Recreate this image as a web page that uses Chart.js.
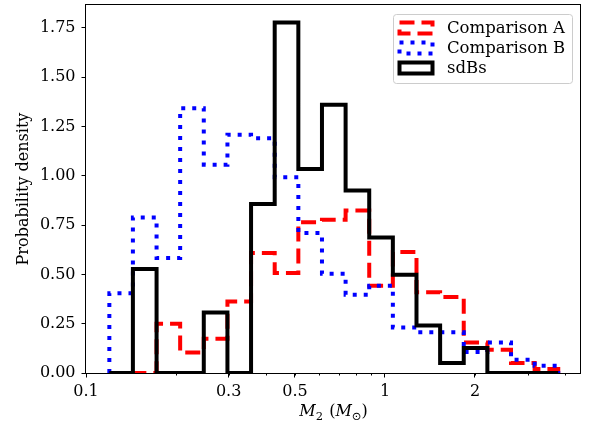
<!DOCTYPE html>
<html>
<head>
<meta charset="utf-8">
<script src="https://cdn.jsdelivr.net/npm/chart.js@4.4.1/dist/chart.umd.min.js"></script>
<style>
  html, body { margin: 0; padding: 0; background: #fff; }
  #wrap { width: 590px; height: 424px; }
</style>
</head>
<body>
<div id="wrap"><canvas id="c" width="590" height="424"></canvas></div>
<script>
// shared log-spaced bin edges (M2 in solar masses)
const binEdges = [0.1197, 0.1435, 0.1722, 0.2065, 0.2477, 0.2972, 0.3565, 0.4277, 0.5131, 0.6155,
  0.7384, 0.8857, 1.0625, 1.2746, 1.529, 1.834, 2.2, 2.6396, 3.1659, 3.7973];

const compA = [0, 0, 0.25, 0.104, 0.174, 0.363, 0.608, 0.507, 0.765, 0.777,
  0.824, 0.442, 0.613, 0.409, 0.385, 0.155, 0.118, 0.051, 0.02];
const compB = [0.405, 0.789, 0.583, 1.343, 1.056, 1.208, 1.19, 0.993, 0.71, 0.503,
  0.397, 0.442, 0.231, 0.206, 0.206, 0.106, 0.155, 0.067, 0.037];
const sdBs = [0, 0.527, 0, 0, 0.307, 0, 0.857, 1.777, 1.035, 1.36,
  0.925, 0.687, 0.498, 0.241, 0.051, 0.127, 0, 0, 0];

const xTickValues = [0.1, 0.3, 0.5, 1, 2];
const xTickLabels = ["0.1", "0.3", "0.5", "1", "2"];
const xMinorTicks = [0.2, 0.3, 0.4, 0.5, 0.6, 0.7, 0.8, 0.9, 2, 3, 4];
const yTickValues = [0, 0.25, 0.5, 0.75, 1, 1.25, 1.5, 1.75];

const serif = "'DejaVu Serif', serif";

// outline of a step histogram: up at the first edge, down at the last
function stepPoints(values) {
  const pts = [{ x: binEdges[0], y: 0 }];
  values.forEach((v, i) => pts.push({ x: binEdges[i], y: v }));
  pts.push({ x: binEdges[binEdges.length - 1], y: 0 });
  return pts;
}

const series = [
  { label: "Comparison A", values: compA, color: "#ff0000", dash: [15, 7], width: 4, order: 2 },
  { label: "Comparison B", values: compB, color: "#0000ff", dash: [4, 7], width: 4, order: 1 },
  { label: "sdBs", values: sdBs, color: "#000000", dash: [], width: 4, order: 0 },
];

const framePlugin = {
  id: "frame",
  afterDatasetsDraw(chart) {
    const { ctx, chartArea: a, scales: { x } } = chart;
    ctx.save();
    ctx.strokeStyle = "#000";
    ctx.lineWidth = 1;
    ctx.strokeRect(a.left - 0.5, a.top - 0.5, a.right - a.left + 1, a.bottom - a.top + 1);
    // minor ticks
    ctx.beginPath();
    xMinorTicks.forEach((v) => {
      const px = Math.round(x.getPixelForValue(v)) + 0.5;
      ctx.moveTo(px, a.bottom);
      ctx.lineTo(px, a.bottom + 2.5);
    });
    ctx.stroke();
    ctx.restore();
  },
};

const legendPlugin = {
  id: "insideLegend",
  afterDraw(chart) {
    const { ctx, chartArea: a } = chart;
    const bx = a.right - 187, by = a.top + 9, bw = 179, bh = 69;
    ctx.save();
    ctx.beginPath();
    ctx.roundRect(bx + 0.5, by + 0.5, bw, bh, 3);
    ctx.fillStyle = "rgba(255,255,255,0.8)";
    ctx.fill();
    ctx.strokeStyle = "#cccccc";
    ctx.lineWidth = 1;
    ctx.stroke();
    series.forEach((s, i) => {
      const cy = by + 14 + i * 20;
      ctx.beginPath();
      ctx.rect(bx + 6.5, cy - 5.5, 33, 11);
      ctx.strokeStyle = s.color;
      ctx.lineWidth = s.width;
      ctx.lineJoin = "miter";
      ctx.setLineDash(s.dash);
      ctx.stroke();
      ctx.setLineDash([]);
      ctx.fillStyle = "#000";
      ctx.font = "16.5px " + serif;
      ctx.textBaseline = "middle";
      ctx.fillText(s.label, bx + 54, cy + 1);
    });
    ctx.restore();
  },
};

const xTitlePlugin = {
  id: "xTitle",
  afterDraw(chart) {
    const { ctx, chartArea: a } = chart;
    const parts = [
      { t: "M", font: "italic 16px " + serif, dy: 0 },
      { t: "2", font: "11.5px " + serif, dy: 3.5 },
      { t: " (", font: "16px " + serif, dy: 0 },
      { t: "M", font: "italic 16px " + serif, dy: 0 },
      { t: "\u2299", font: "11.5px 'DejaVu Sans', sans-serif", dy: 3.5 },
      { t: ")", font: "16px " + serif, dy: 0 },
    ];
    ctx.save();
    ctx.fillStyle = "#000";
    ctx.textBaseline = "alphabetic";
    let total = 0;
    parts.forEach((p) => { ctx.font = p.font; p.w = ctx.measureText(p.t).width; total += p.w; });
    let x = (a.left + a.right) / 2 - total / 2;
    const base = 416;
    parts.forEach((p) => {
      ctx.font = p.font;
      ctx.fillText(p.t, x, base + p.dy);
      x += p.w + (p.t === "2" ? 1 : 0);
    });
    ctx.restore();
  },
};

new Chart(document.getElementById("c"), {
  type: "line",
  data: {
    datasets: series.map((s) => ({
      label: s.label,
      data: stepPoints(s.values),
      borderColor: s.color,
      borderWidth: s.width,
      borderDash: s.dash,
      borderJoinStyle: "miter",
      borderCapStyle: "butt",
      stepped: "before",
      fill: false,
      pointRadius: 0,
      order: s.order,
      clip: 0,
    })),
  },
  options: {
    responsive: false,
    animation: false,
    devicePixelRatio: 1,
    layout: { padding: { left: 0, right: 10, top: 5, bottom: 0 } },
    plugins: { legend: { display: false }, tooltip: { enabled: false } },
    scales: {
      x: {
        type: "logarithmic",
        min: 0.1,
        max: 4.49,
        afterBuildTicks: (scale) => { scale.ticks = xTickValues.map((v) => ({ value: v })); },
        afterFit: (scale) => { scale.height = 51; scale.paddingLeft = 0; scale.paddingRight = 0; },
        ticks: {
          autoSkip: false,
          maxRotation: 0,
          padding: 5,
          color: "#000",
          font: { family: serif, size: 16 },
          callback: (v) => {
            const i = xTickValues.findIndex((t) => Math.abs(t - v) < 1e-9);
            return i >= 0 ? xTickLabels[i] : "";
          },
        },
        grid: { drawOnChartArea: false, drawTicks: true, tickLength: 4.5, tickColor: "#000", tickWidth: 1 },
        border: { display: false },
      },
      y: {
        min: 0,
        max: 1.866,
        afterBuildTicks: (scale) => { scale.ticks = yTickValues.map((v) => ({ value: v })); },
        afterFit: (scale) => { scale.width = 86; scale.paddingTop = 0; scale.paddingBottom = 0; },
        ticks: {
          padding: 6,
          color: "#000",
          font: { family: serif, size: 16 },
          callback: (v) => Number(v).toFixed(2),
        },
        grid: { drawOnChartArea: false, drawTicks: true, tickLength: 4.5, tickColor: "#000", tickWidth: 1 },
        border: { display: false },
        title: {
          display: true,
          text: "Probability density",
          color: "#000",
          font: { family: serif, size: 16 },
          padding: { top: 14, bottom: 0 },
        },
      },
    },
  },
  plugins: [framePlugin, legendPlugin, xTitlePlugin],
});
</script>
</body>
</html>
